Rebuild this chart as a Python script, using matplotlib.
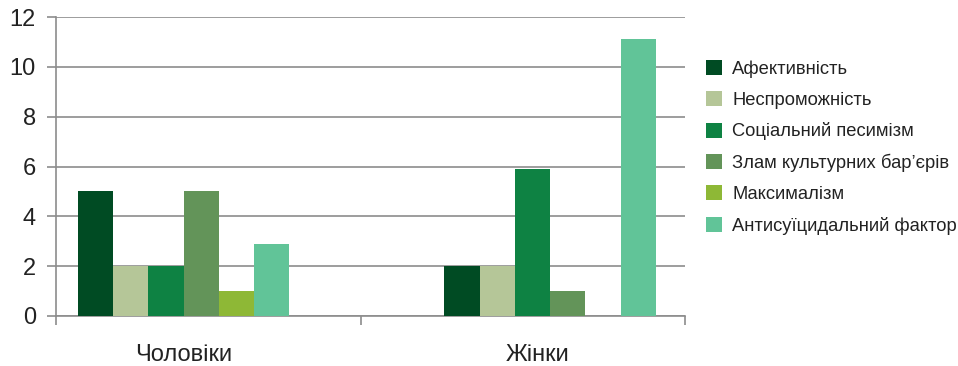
import matplotlib.pyplot as plt
from matplotlib.patches import Patch
import numpy as np

plt.rcParams['font.family'] = ['Liberation Sans', 'DejaVu Sans']

groups = ['Чоловіки', 'Жінки']
factors = ['Афективність', 'Неспроможність', 'Соціальний песимізм',
           'Злам культурних бар’єрів', 'Максималізм', 'Антисуїцидальний фактор']
men = [5, 2, 2, 5, 1, 2.9]
women = [2, 2, 5.9, 1, 0, 11.1]
colors = ['#004b23', '#b5c698', '#0e8243', '#639459', '#8eb836', '#61c498']

# group centres, label positions and category boundaries in bar-width units
centres = [0.0, 10.4]
label_pos = [0.0, 10.05]
bounds = [-3.62, 5.03, 14.23]
grid_c = '#8c8c8c'
text_c = '#222222'

fig = plt.figure(figsize=(9.58, 3.66), dpi=100)
ax = fig.add_axes([56 / 958, 1 - 316 / 366, (685 - 56) / 958, (316 - 17) / 366])

offsets = np.arange(len(factors)) - (len(factors) - 1) / 2
for i, f in enumerate(factors):
    vals = [men[i], women[i]]
    xs = [c + offsets[i] for c in centres]
    ax.bar(xs, vals, width=1.0, color=colors[i], zorder=3, linewidth=0)

ax.set_xlim(bounds[0], bounds[-1])
ax.set_ylim(0, 12)
ax.set_yticks(range(0, 13, 2))
ax.yaxis.grid(True, color=grid_c, linewidth=1.2, zorder=0)
ax.tick_params(axis='y', length=6.5, width=1.2, color=grid_c, pad=8,
               labelsize=17, labelcolor=text_c)

ax.set_xticks(label_pos)
ax.set_xticklabels(groups)
ax.tick_params(axis='x', which='major', length=0, pad=20,
               labelsize=17, labelcolor=text_c)
ax.set_xticks(bounds, minor=True)
ax.tick_params(axis='x', which='minor', length=6.5, width=1.2, color=grid_c)

for s in ['top', 'right']:
    ax.spines[s].set_visible(False)
for s in ['left', 'bottom']:
    ax.spines[s].set_color(grid_c)
    ax.spines[s].set_linewidth(1.2)

handles = [Patch(facecolor=c, edgecolor='none') for c in colors]
fig.legend(handles, factors, loc='upper left',
           bbox_to_anchor=(706 / 958, 1 - 60 / 366), frameon=False,
           fontsize=13.2, borderpad=0, borderaxespad=0,
           handlelength=0.88, handleheight=0.88, handletextpad=0.55,
           labelspacing=0.73, labelcolor=text_c)

fig.savefig('out.png', dpi=100)
